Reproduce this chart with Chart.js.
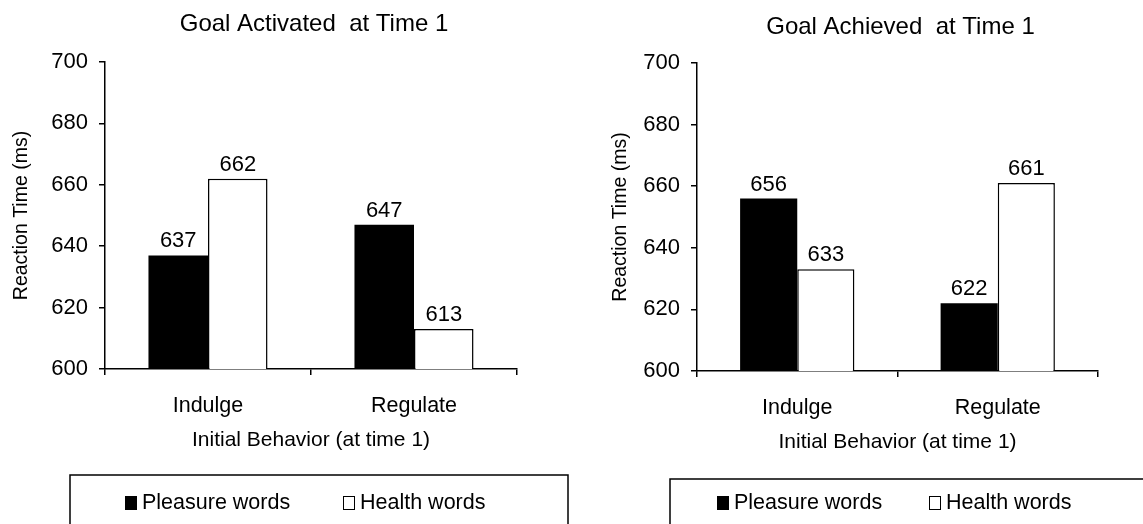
<!DOCTYPE html>
<html lang="en">
<head>
<meta charset="UTF-8">
<title>Reaction Time by Initial Behavior</title>
<script src="https://cdn.jsdelivr.net/npm/chart.js"></script>
<style>
    body { margin: 0; background: #fff; }
    canvas { position: absolute; top: 0; }
    #activated { left: 0; }
    #achieved { left: 571px; }
</style>
</head>
<body>
<canvas id="activated" width="571" height="524"></canvas>
<canvas id="achieved" width="572" height="524"></canvas>
<script>
    const categories = ["Indulge", "Regulate"];
    const seriesNames = ["Pleasure words", "Health words"];
    const activatedPleasure = [637, 647];
    const activatedHealth = [662, 613];
    const achievedPleasure = [656, 622];
    const achievedHealth = [633, 661];
    const yMin = 600, yMax = 700, yStep = 20;

    const FONT = '"Liberation Sans", Arial, sans-serif';
    Chart.defaults.font.family = FONT;
    Chart.defaults.color = "#000";

    // title centred over the plot area, not the canvas
    const areaTitle = {
        id: "areaTitle",
        afterDraw(chart, args, opts) {
            const ctx = chart.ctx, a = chart.chartArea;
            ctx.save();
            ctx.font = "24px " + FONT;
            ctx.fillStyle = "#000";
            ctx.textAlign = "center";
            ctx.textBaseline = "middle";
            ctx.fillText(opts.text, (a.left + a.right) / 2 + 3, opts.y);
            ctx.restore();
        }
    };

    const barLabels = {
        id: "barLabels",
        afterDatasetsDraw(chart) {
            const ctx = chart.ctx;
            ctx.save();
            ctx.font = "22px " + FONT;
            ctx.fillStyle = "#000";
            ctx.textAlign = "center";
            ctx.textBaseline = "alphabetic";
            chart.data.datasets.forEach((ds, i) => {
                chart.getDatasetMeta(i).data.forEach((bar, j) => {
                    ctx.fillText(ds.data[j], bar.x, bar.y - 8);
                });
            });
            ctx.restore();
        }
    };

    // boxed legend below the axis title
    const boxLegend = {
        id: "boxLegend",
        afterDraw(chart, args, opts) {
            const ctx = chart.ctx, a = chart.chartArea;
            ctx.save();
            ctx.strokeStyle = "#000";
            ctx.lineWidth = 1.5;
            ctx.strokeRect(opts.boxLeft, opts.boxTop, opts.boxRight - opts.boxLeft, 80);
            ctx.font = "21.5px " + FONT;
            ctx.textBaseline = "middle";
            ctx.textAlign = "left";
            let x = a.left + 20;
            const y = opts.textY;
            chart.data.datasets.forEach((ds) => {
                ctx.fillStyle = ds.backgroundColor;
                ctx.fillRect(x, y - 7, 12, 14);
                ctx.lineWidth = 1;
                ctx.strokeRect(x + 0.5, y - 6.5, 11, 13);
                ctx.fillStyle = "#000";
                ctx.fillText(ds.label, x + 17, y);
                x += opts.gap;
            });
            ctx.restore();
        }
    };

    function makeChart(id, title, pleasure, health, lay) {
        new Chart(document.getElementById(id), {
            type: "bar",
            data: {
                labels: categories,
                datasets: [
                    { label: seriesNames[0], data: pleasure, backgroundColor: "#000", borderColor: "#000", borderWidth: 0 },
                    { label: seriesNames[1], data: health, backgroundColor: "#fff", borderColor: "#000", borderWidth: 1.5 }
                ]
            },
            options: {
                responsive: false,
                animation: false,
                layout: { padding: { top: lay.top, right: lay.right, bottom: lay.bottom, left: 0 } },
                datasets: { bar: { categoryPercentage: lay.cat, barPercentage: 1.0 } },
                plugins: {
                    legend: { display: false },
                    tooltip: { enabled: false },
                    areaTitle: { text: title, y: lay.titleY },
                    boxLegend: { boxLeft: lay.boxLeft, boxRight: lay.boxRight, boxTop: lay.boxTop, textY: 503, gap: lay.gap }
                },
                scales: {
                    x: {
                        grid: { drawOnChartArea: false, drawTicks: true, tickLength: 6, color: "#000", lineWidth: 1.5, offset: true },
                        border: { color: "#000", width: 1.5 },
                        ticks: { font: { size: 21.5 }, padding: 18 },
                        title: { display: true, text: "Initial Behavior (at time 1)", font: { size: 21 }, padding: { bottom: 6 } },
                        afterFit(scale) { scale.height = 90; }
                    },
                    y: {
                        min: yMin,
                        max: yMax,
                        grid: { drawOnChartArea: false, drawTicks: true, tickLength: 6, color: "#000", lineWidth: 1.5 },
                        border: { color: "#000", width: 1.5 },
                        ticks: { stepSize: yStep, font: { size: 22 }, padding: 11 },
                        title: { display: true, text: "Reaction Time (ms)", font: { size: 19.5 }, padding: { top: lay.yTitlePad } },
                        afterFit(scale) { scale.width = lay.yWidth; }
                    }
                }
            },
            plugins: [areaTitle, barLabels, boxLegend]
        });
    }

    makeChart("activated", "Goal Activated  at Time 1", activatedPleasure, activatedHealth, {
        top: 62, right: 54, bottom: 65, cat: 0.578, titleY: 24, yWidth: 105, yTitlePad: 10,
        boxLeft: 70, boxRight: 568, boxTop: 475, gap: 218
    });
    makeChart("achieved", "Goal Achieved  at Time 1", achievedPleasure, achievedHealth, {
        top: 63, right: 45, bottom: 63, cat: 0.57, titleY: 27, yWidth: 126, yTitlePad: 38,
        boxLeft: 99, boxRight: 620, boxTop: 479, gap: 212
    });
</script>
</body>
</html>
